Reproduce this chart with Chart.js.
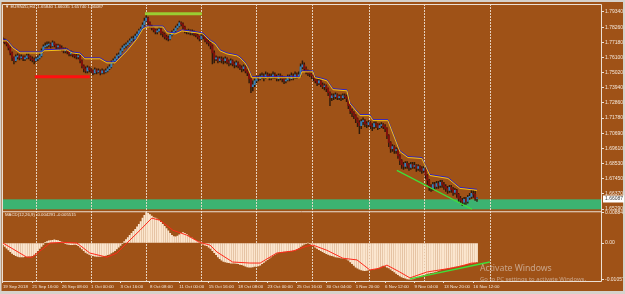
<!DOCTYPE html>
<html>
<head>
<meta charset="utf-8">
<script src="https://cdn.jsdelivr.net/npm/chart.js@4.4.1/dist/chart.umd.min.js"></script>
<style>
  html, body { margin: 0; padding: 0; background: #9f5217; }
  #wrap { width: 625px; height: 294px; }
</style>
</head>
<body>
<div id="wrap"><canvas id="chart" width="625" height="294"></canvas></div>
<script>
// EURNZD H4 candles, 19 Sep - 16 Nov 2018 (one value per bar)
const firstOpen = 1.7735;
const closes = [
  1.7728,1.7721,1.7706,1.7678,1.7642,1.7607,1.7586,1.7614,
  1.7621,1.7607,1.7614,1.7600,1.7607,1.7621,1.7614,1.7600,
  1.7593,1.7586,1.7600,1.7607,1.7621,1.7657,1.7685,1.7692,
  1.7699,1.7706,1.7692,1.7714,1.7699,1.7685,1.7692,1.7678,
  1.7671,1.7657,1.7664,1.7650,1.7635,1.7642,1.7628,1.7621,
  1.7614,1.7621,1.7586,1.7550,1.7529,1.7514,1.7536,1.7522,
  1.7514,1.7500,1.7522,1.7507,1.7514,1.7500,1.7514,1.7507,
  1.7514,1.7529,1.7543,1.7571,1.7586,1.7600,1.7621,1.7628,
  1.7657,1.7678,1.7692,1.7699,1.7714,1.7728,1.7742,1.7742,
  1.7763,1.7777,1.7799,1.7813,1.7841,1.7870,1.7891,1.7856,
  1.7834,1.7820,1.7806,1.7792,1.7799,1.7813,1.7785,1.7777,
  1.7756,1.7749,1.7742,1.7770,1.7785,1.7799,1.7820,1.7834,
  1.7856,1.7848,1.7827,1.7799,1.7792,1.7799,1.7785,1.7792,
  1.7777,1.7770,1.7756,1.7742,1.7763,1.7756,1.7735,1.7721,
  1.7714,1.7692,1.7642,1.7600,1.7607,1.7586,1.7600,1.7593,
  1.7586,1.7600,1.7578,1.7571,1.7586,1.7564,1.7557,1.7571,
  1.7550,1.7536,1.7529,1.7543,1.7514,1.7500,1.7458,1.7401,
  1.7415,1.7443,1.7465,1.7458,1.7472,1.7479,1.7465,1.7486,
  1.7479,1.7465,1.7472,1.7486,1.7472,1.7458,1.7479,1.7465,
  1.7458,1.7443,1.7450,1.7472,1.7458,1.7479,1.7465,1.7486,
  1.7472,1.7486,1.7543,1.7557,1.7529,1.7507,1.7500,1.7493,
  1.7479,1.7465,1.7443,1.7429,1.7443,1.7415,1.7401,1.7408,
  1.7387,1.7358,1.7323,1.7337,1.7330,1.7344,1.7323,1.7330,
  1.7323,1.7337,1.7330,1.7316,1.7266,1.7230,1.7216,1.7195,
  1.7173,1.7145,1.7124,1.7152,1.7159,1.7138,1.7131,1.7145,
  1.7124,1.7117,1.7138,1.7131,1.7109,1.7124,1.7131,1.7117,
  1.7102,1.7053,1.7003,1.6960,1.6974,1.6946,1.6953,1.6910,
  1.6875,1.6846,1.6832,1.6854,1.6839,1.6825,1.6846,1.6832,
  1.6839,1.6818,1.6832,1.6818,1.6804,1.6818,1.6768,1.6733,
  1.6690,1.6676,1.6704,1.6690,1.6711,1.6697,1.6719,1.6704,
  1.6690,1.6676,1.6662,1.6683,1.6669,1.6648,1.6662,1.6634,
  1.6605,1.6591,1.6577,1.6598,1.6584,1.6612,1.6619,1.6641,
  1.6634,1.6605,1.6609
];
const highs = [
  1.7749,1.7742,1.7728,1.7714,1.7685,1.7650,1.7614,1.7628,
  1.7635,1.7628,1.7628,1.7621,1.7621,1.7635,1.7635,1.7621,
  1.7614,1.7607,1.7614,1.7621,1.7635,1.7671,1.7699,1.7714,
  1.7721,1.7721,1.7714,1.7728,1.7721,1.7706,1.7706,1.7699,
  1.7692,1.7678,1.7678,1.7671,1.7657,1.7657,1.7650,1.7642,
  1.7635,1.7635,1.7628,1.7593,1.7557,1.7543,1.7550,1.7543,
  1.7536,1.7522,1.7536,1.7529,1.7529,1.7522,1.7529,1.7522,
  1.7529,1.7543,1.7557,1.7586,1.7600,1.7614,1.7635,1.7642,
  1.7671,1.7692,1.7706,1.7714,1.7728,1.7742,1.7756,1.7763,
  1.7777,1.7792,1.7813,1.7827,1.7856,1.7891,1.7912,1.7898,
  1.7863,1.7841,1.7827,1.7813,1.7813,1.7827,1.7820,1.7792,
  1.7785,1.7770,1.7763,1.7785,1.7799,1.7813,1.7834,1.7848,
  1.7870,1.7863,1.7856,1.7834,1.7806,1.7813,1.7806,1.7806,
  1.7799,1.7785,1.7777,1.7763,1.7777,1.7777,1.7763,1.7742,
  1.7735,1.7721,1.7699,1.7657,1.7621,1.7614,1.7614,1.7614,
  1.7607,1.7614,1.7607,1.7593,1.7600,1.7593,1.7578,1.7586,
  1.7578,1.7557,1.7550,1.7557,1.7550,1.7522,1.7507,1.7465,
  1.7443,1.7458,1.7479,1.7479,1.7493,1.7500,1.7493,1.7507,
  1.7500,1.7493,1.7493,1.7507,1.7500,1.7486,1.7493,1.7493,
  1.7479,1.7472,1.7465,1.7486,1.7486,1.7500,1.7493,1.7507,
  1.7500,1.7507,1.7564,1.7586,1.7571,1.7543,1.7522,1.7514,
  1.7500,1.7486,1.7472,1.7458,1.7458,1.7450,1.7429,1.7422,
  1.7415,1.7394,1.7365,1.7351,1.7351,1.7358,1.7351,1.7344,
  1.7344,1.7351,1.7351,1.7344,1.7330,1.7273,1.7244,1.7223,
  1.7202,1.7180,1.7159,1.7166,1.7180,1.7166,1.7152,1.7159,
  1.7152,1.7138,1.7152,1.7152,1.7138,1.7138,1.7145,1.7138,
  1.7131,1.7109,1.7060,1.7010,1.6989,1.6982,1.6967,1.6960,
  1.6918,1.6882,1.6861,1.6868,1.6868,1.6854,1.6861,1.6861,
  1.6861,1.6846,1.6846,1.6839,1.6832,1.6832,1.6825,1.6775,
  1.6740,1.6704,1.6719,1.6719,1.6726,1.6726,1.6733,1.6733,
  1.6719,1.6704,1.6690,1.6697,1.6697,1.6683,1.6676,1.6669,
  1.6641,1.6619,1.6605,1.6612,1.6612,1.6626,1.6641,1.6662,
  1.6662,1.6655,1.6612
];
const lows = [
  1.7714,1.7706,1.7692,1.7664,1.7628,1.7586,1.7564,1.7578,
  1.7600,1.7593,1.7600,1.7586,1.7586,1.7600,1.7600,1.7586,
  1.7578,1.7564,1.7578,1.7586,1.7600,1.7614,1.7650,1.7678,
  1.7678,1.7685,1.7678,1.7685,1.7685,1.7671,1.7671,1.7664,
  1.7657,1.7642,1.7642,1.7635,1.7621,1.7621,1.7614,1.7607,
  1.7600,1.7600,1.7571,1.7536,1.7507,1.7500,1.7500,1.7507,
  1.7500,1.7486,1.7493,1.7493,1.7500,1.7486,1.7493,1.7493,
  1.7500,1.7507,1.7522,1.7536,1.7564,1.7578,1.7593,1.7607,
  1.7621,1.7650,1.7671,1.7678,1.7692,1.7706,1.7721,1.7728,
  1.7735,1.7756,1.7770,1.7792,1.7806,1.7834,1.7863,1.7841,
  1.7820,1.7806,1.7792,1.7777,1.7777,1.7792,1.7770,1.7756,
  1.7742,1.7735,1.7728,1.7735,1.7763,1.7777,1.7792,1.7813,
  1.7827,1.7834,1.7813,1.7785,1.7777,1.7777,1.7770,1.7770,
  1.7763,1.7756,1.7742,1.7728,1.7735,1.7742,1.7721,1.7706,
  1.7692,1.7671,1.7564,1.7571,1.7586,1.7571,1.7578,1.7571,
  1.7564,1.7571,1.7564,1.7550,1.7557,1.7550,1.7536,1.7543,
  1.7536,1.7522,1.7507,1.7514,1.7500,1.7479,1.7429,1.7358,
  1.7372,1.7401,1.7429,1.7443,1.7450,1.7458,1.7443,1.7458,
  1.7465,1.7450,1.7450,1.7458,1.7458,1.7443,1.7443,1.7450,
  1.7436,1.7422,1.7429,1.7443,1.7443,1.7450,1.7450,1.7458,
  1.7458,1.7465,1.7472,1.7529,1.7514,1.7493,1.7479,1.7472,
  1.7458,1.7443,1.7429,1.7408,1.7415,1.7401,1.7387,1.7379,
  1.7365,1.7337,1.7266,1.7301,1.7308,1.7316,1.7308,1.7308,
  1.7301,1.7308,1.7316,1.7294,1.7244,1.7209,1.7188,1.7173,
  1.7145,1.7117,1.7067,1.7102,1.7131,1.7117,1.7109,1.7117,
  1.7102,1.7088,1.7102,1.7109,1.7095,1.7102,1.7109,1.7102,
  1.7081,1.7031,1.6974,1.6932,1.6939,1.6925,1.6925,1.6889,
  1.6846,1.6818,1.6811,1.6818,1.6818,1.6804,1.6811,1.6818,
  1.6818,1.6797,1.6804,1.6797,1.6782,1.6790,1.6747,1.6704,
  1.6662,1.6655,1.6662,1.6669,1.6676,1.6676,1.6683,1.6683,
  1.6669,1.6655,1.6641,1.6648,1.6648,1.6626,1.6634,1.6612,
  1.6584,1.6570,1.6555,1.6562,1.6562,1.6570,1.6598,1.6605,
  1.6612,1.6591,1.6584
];

// MACD(12,26,9) main values, one per bar
const macdHist = [
  -0.0005,-0.0010,-0.0015,-0.0020,
  -0.0025,-0.0030,-0.0034,-0.0037,-0.0039,-0.0040,
  -0.0040,-0.0040,-0.0039,-0.0039,-0.0038,-0.0038,-0.0037,
  -0.0033,-0.0028,-0.0022,-0.0016,-0.0010,-0.0004,
  0.0001,0.0004,0.0006,0.0007,0.0008,0.0009,0.0008,0.0007,0.0005,
  0.0003,0.0001,-0.0001,-0.0003,-0.0004,-0.0005,-0.0005,-0.0004,-0.0005,
  -0.0008,-0.0012,-0.0017,-0.0022,-0.0027,-0.0030,-0.0033,-0.0035,-0.0037,
  -0.0038,-0.0039,-0.0039,-0.0039,
  -0.0038,-0.0037,-0.0036,-0.0034,-0.0032,-0.0029,-0.0026,
  -0.0022,-0.0017,-0.0012,-0.0007,-0.0002,
  0.0004,0.0010,0.0016,0.0022,0.0028,0.0034,
  0.0040,0.0047,0.0054,0.0062,0.0072,
  0.0080,0.0088,0.0086,
  0.0082,0.0078,0.0074,0.0072,0.0069,0.0066,
  0.0060,0.0054,0.0048,0.0042,0.0035,0.0028,
  0.0022,0.0019,0.0018,0.0020,
  0.0024,0.0028,0.0030,0.0028,0.0025,
  0.0020,0.0016,0.0014,0.0011,0.0008,0.0005,0.0003,
  0.0000,-0.0003,-0.0006,-0.0008,-0.0012,-0.0016,
  -0.0022,-0.0028,-0.0034,-0.0040,-0.0045,
  -0.0050,-0.0053,-0.0055,-0.0056,-0.0057,-0.0058,-0.0058,
  -0.0058,-0.0059,-0.0060,-0.0062,-0.0063,-0.0065,-0.0067,-0.0069,-0.0070,
  -0.0070,-0.0069,-0.0068,-0.0067,-0.0066,-0.0064,
  -0.0060,-0.0056,-0.0052,-0.0048,-0.0044,-0.0040,-0.0036,-0.0032,-0.0029,
  -0.0027,-0.0026,-0.0025,-0.0024,-0.0024,-0.0023,-0.0022,-0.0022,-0.0021,-0.0020,-0.0018,-0.0014,
  -0.0010,-0.0006,-0.0003,-0.0001,0.0000,-0.0002,-0.0005,
  -0.0008,-0.0012,-0.0016,-0.0019,-0.0022,-0.0025,-0.0028,-0.0031,-0.0033,-0.0035,-0.0037,
  -0.0038,-0.0040,-0.0041,-0.0042,-0.0043,-0.0044,-0.0045,-0.0046,
  -0.0050,-0.0055,-0.0060,-0.0065,-0.0070,
  -0.0073,-0.0076,-0.0078,-0.0079,-0.0080,-0.0079,
  -0.0078,-0.0077,-0.0076,-0.0075,-0.0074,-0.0072,-0.0070,
  -0.0067,-0.0065,-0.0066,-0.0070,
  -0.0072,-0.0076,-0.0080,-0.0084,-0.0088,-0.0092,-0.0095,
  -0.0098,-0.0100,-0.0102,-0.0104,-0.0105,-0.0105,-0.0104,
  -0.0102,-0.0100,-0.0098,-0.0096,-0.0094,-0.0092,
  -0.0090,-0.0088,-0.0087,-0.0086,-0.0085,-0.0084,-0.0082,-0.0080,-0.0078,
  -0.0076,-0.0075,-0.0074,-0.0073,-0.0072,-0.0071,-0.0070,-0.0068,-0.0067,
  -0.0066,-0.0065,-0.0064,-0.0063,-0.0062,-0.0060,-0.0059,-0.0058,
  -0.0057,-0.0056,-0.0055
];

// signal line, read as vertices (bar, value)
const macdSignal = [
  {x: 0, y: 0}, {x: 13, y: -0.0041}, {x: 16, y: -0.0041}, {x: 25.6, y: 0},
  {x: 32.7, y: 0.0002}, {x: 40.3, y: 0}, {x: 47.3, y: -0.0029}, {x: 56.6, y: -0.0041},
  {x: 62, y: -0.0029}, {x: 67.5, y: 0}, {x: 74.6, y: 0.0037}, {x: 81, y: 0.0072},
  {x: 85.4, y: 0.0066}, {x: 92.5, y: 0.0037}, {x: 100, y: 0.0023}, {x: 107, y: 0.0002},
  {x: 112.7, y: -0.0006}, {x: 116.5, y: -0.0026}, {x: 125, y: -0.0055}, {x: 134.4, y: -0.0058},
  {x: 140, y: -0.0058}, {x: 149, y: -0.0029}, {x: 158, y: -0.0023}, {x: 165.4, y: -0.0009},
  {x: 168.7, y: -0.0006}, {x: 176.3, y: -0.0021}, {x: 185, y: -0.0044}, {x: 192.7, y: -0.0049},
  {x: 199.7, y: -0.0078}, {x: 205, y: -0.0073}, {x: 209, y: -0.0064}, {x: 216, y: -0.0084},
  {x: 221.5, y: -0.0101}, {x: 230.7, y: -0.0084}, {x: 237.8, y: -0.0078}, {x: 247, y: -0.0070},
  {x: 255.2, y: -0.0058}, {x: 258, y: -0.0058}
];

// stepped moving average on the price pane, read as vertices (bar, price)
const maLine = [
  {x: 0, y: 1.7728}, {x: 2.2, y: 1.7728}, {x: 5.4, y: 1.7678}, {x: 9.3, y: 1.7642},
  {x: 21.2, y: 1.7642}, {x: 22.3, y: 1.7657}, {x: 34.8, y: 1.7664}, {x: 37.6, y: 1.7642},
  {x: 41.9, y: 1.7635}, {x: 44.6, y: 1.7600}, {x: 52.8, y: 1.7600}, {x: 56.6, y: 1.7571},
  {x: 61, y: 1.7571}, {x: 67.5, y: 1.7657}, {x: 72.9, y: 1.7742}, {x: 76.2, y: 1.7813},
  {x: 78.4, y: 1.7827}, {x: 87.1, y: 1.7827}, {x: 89.3, y: 1.7785}, {x: 93.6, y: 1.7777},
  {x: 97.4, y: 1.7799}, {x: 105.6, y: 1.7785}, {x: 108.8, y: 1.7777}, {x: 112.7, y: 1.7728},
  {x: 115.4, y: 1.7706}, {x: 118.1, y: 1.7657}, {x: 121.9, y: 1.7635}, {x: 127.3, y: 1.7621},
  {x: 129, y: 1.7607}, {x: 131.7, y: 1.7571}, {x: 133.3, y: 1.7536}, {x: 135.5, y: 1.7465},
  {x: 161.6, y: 1.7465}, {x: 162.7, y: 1.7507}, {x: 168.7, y: 1.7507}, {x: 169.8, y: 1.7465},
  {x: 172.5, y: 1.7458}, {x: 176.3, y: 1.7443}, {x: 179.6, y: 1.7380}, {x: 187.2, y: 1.7372},
  {x: 188.8, y: 1.7280}, {x: 194.3, y: 1.7195}, {x: 199.7, y: 1.7195}, {x: 201.4, y: 1.7159},
  {x: 209.5, y: 1.7159}, {x: 216, y: 1.6939}, {x: 220.4, y: 1.6896}, {x: 228, y: 1.6889},
  {x: 232.4, y: 1.6768}, {x: 242.2, y: 1.6747}, {x: 248.7, y: 1.6676}, {x: 258, y: 1.6662}
];

// drawn objects
const redLevel = [{x: 17.4, y: 1.7472}, {x: 47.3, y: 1.7472}];
const topLevel = [{x: 77.3, y: 1.7922}, {x: 108.3, y: 1.7922}];
const priceTrend = [{x: 214.4, y: 1.6804}, {x: 255.2, y: 1.6527}];
const macdTrend = [{x: 221.5, y: -0.0104}, {x: 265, y: -0.0055}];
const supportBand = [1.6598, 1.6527];

const timeLabels = ['19 Sep 2018', '21 Sep 16:00', '26 Sep 08:00', '1 Oct 00:00', '3 Oct 16:00',
  '8 Oct 08:00', '11 Oct 00:00', '15 Oct 16:00', '18 Oct 08:00', '23 Oct 00:00', '25 Oct 16:00',
  '30 Oct 04:00', '1 Nov 20:00', '6 Nov 12:00', '9 Nov 04:00', '13 Nov 20:00', '16 Nov 12:00'];
const labelStep = 16;
const separatorBars = [18, 48, 78, 108, 138, 168, 199, 229, 265];
const priceTicks = [1.79340, 1.78260, 1.77180, 1.76100, 1.75020, 1.73940, 1.72860,
  1.71780, 1.70690, 1.69610, 1.68530, 1.67450, 1.66370, 1.65290];
const macdTicks = [0.008842, 0, -0.010571];
const macdTickLabels = ['0.008842', '0.00', '-0.010571'];
const lastPrice = 1.66087;
const mainTitle = '\u25BC EURNZD,H4  1.65840 1.66035 1.65740 1.66087';
const macdTitle = 'MACD(12,26,9) -0.004291 -0.005515';

const bgColor = '#9f5217';
const frameColor = '#ece0d4';
const textColor = '#f4e8dc';
const bullColor = '#3380bb';
const bearColor = '#820f0c';
const wickColor = '#2e1a0c';

const opens = closes.map((c, i) => i === 0 ? firstOpen : closes[i - 1]);

const mtPlugin = {
    id: 'mtDecor',
    beforeDraw: function (chart) {
        const ctx = chart.ctx;
        const a = chart.chartArea;
        const x = chart.scales.x, y = chart.scales.y;
        ctx.save();
        ctx.fillStyle = bgColor;
        ctx.fillRect(0, 0, chart.width, chart.height);
        const t = y.getPixelForValue(supportBand[0]);
        const b = y.getPixelForValue(supportBand[1]);
        ctx.fillStyle = '#3cb371';
        ctx.fillRect(a.left, t, a.right - a.left, b - t);
        ctx.strokeStyle = 'rgba(236,222,208,0.9)';
        ctx.lineWidth = 1;
        ctx.setLineDash([2, 1]);
        separatorBars.forEach(function (s) {
            const px = Math.round(x.getPixelForValue(s)) + 0.5;
            ctx.beginPath();
            ctx.moveTo(px, a.top);
            ctx.lineTo(px, a.bottom);
            ctx.stroke();
        });
        ctx.restore();
    },
    beforeDatasetDraw: function (chart, args) {
        if (args.meta.label === 'maBlue') {
            chart.ctx.save();
            chart.ctx.translate(0, -1);
        }
    },
    afterDatasetDraw: function (chart, args) {
        if (args.meta.label === 'maBlue') {
            chart.ctx.restore();
        }
    },
    afterDraw: function (chart) {
        const ctx = chart.ctx;
        const a = chart.chartArea;
        const y = chart.scales.y, y2 = chart.scales.y2;
        ctx.save();
        // window frame
        ctx.fillStyle = '#d6d2cc';
        ctx.fillRect(0, 0, chart.width, 2);
        ctx.fillRect(0, 0, 1.5, chart.height);
        ctx.fillRect(623, 0, 2, chart.height);
        ctx.fillRect(0, 291, chart.width, 3);
        // pane borders
        ctx.strokeStyle = frameColor;
        ctx.lineWidth = 1;
        ctx.beginPath();
        ctx.moveTo(a.left + 0.5, a.top + 0.5);
        ctx.lineTo(a.right + 0.5, a.top + 0.5);
        ctx.lineTo(a.right + 0.5, a.bottom + 0.5);
        ctx.lineTo(a.left + 0.5, a.bottom + 0.5);
        ctx.closePath();
        ctx.moveTo(a.left, y.bottom + 0.5);
        ctx.lineTo(a.right, y.bottom + 0.5);
        ctx.stroke();
        // titles
        ctx.fillStyle = textColor;
        ctx.textBaseline = 'middle';
        ctx.font = '4.3px "Liberation Sans", sans-serif';
        ctx.fillText(mainTitle, 5, 7);
        ctx.fillText(macdTitle, 5, y2.top + 4);
        // current price box
        const py = Math.round(y.getPixelForValue(lastPrice)) + 1;
        ctx.fillStyle = '#ffffff';
        ctx.fillRect(603, py - 3.5, 21, 7);
        ctx.fillStyle = '#3a3a3a';
        ctx.font = '5px "Liberation Sans", sans-serif';
        ctx.fillText(lastPrice.toFixed(5), 605, py);
        // system watermark
        ctx.fillStyle = 'rgba(226,216,210,0.6)';
        ctx.font = '8.7px "Noto Sans", sans-serif';
        ctx.fillText('Activate Windows', 480, 269);
        ctx.font = '5.9px "Noto Sans", sans-serif';
        ctx.fillText('Go to PC settings to activate Windows.', 480, 279);
        ctx.restore();
    }
};

const ctx = document.getElementById('chart').getContext('2d');
const myChart = new Chart(ctx, {
    type: 'bar',
    data: {
        datasets: [{
            type: 'bar',
            label: 'wicks',
            data: closes.map((c, i) => ({x: i, y: [Math.min(lows[i], opens[i], c), Math.max(highs[i], opens[i], c)]})),
            backgroundColor: wickColor,
            barThickness: 0.8,
            grouped: false,
            yAxisID: 'y',
            order: 20
        }, {
            type: 'bar',
            label: 'bodies',
            data: closes.map((c, i) => ({x: i, y: [opens[i], c]})),
            backgroundColor: closes.map((c, i) => c >= opens[i] ? bullColor : bearColor),
            barThickness: 1.3,
            grouped: false,
            yAxisID: 'y',
            order: 19
        }, {
            type: 'line',
            label: 'maBlue',
            data: maLine,
            borderColor: '#2a22d0',
            borderWidth: 1,
            pointRadius: 0,
            yAxisID: 'y',
            order: 18
        }, {
            type: 'line',
            label: 'maYellow',
            data: maLine,
            borderColor: '#f4c21a',
            borderWidth: 1,
            pointRadius: 0,
            yAxisID: 'y',
            order: 17
        }, {
            type: 'line',
            label: 'red level',
            data: redLevel,
            borderColor: '#ff1010',
            borderWidth: 3,
            pointRadius: 0,
            yAxisID: 'y',
            order: 5
        }, {
            type: 'line',
            label: 'top level',
            data: topLevel,
            borderColor: '#9acd32',
            borderWidth: 3,
            pointRadius: 0,
            yAxisID: 'y',
            order: 5
        }, {
            type: 'line',
            label: 'price trend',
            data: priceTrend,
            borderColor: '#3ee03a',
            borderWidth: 1.3,
            pointRadius: 0,
            yAxisID: 'y',
            order: 4
        }, {
            type: 'bar',
            label: 'MACD',
            data: macdHist.map((v, i) => ({x: i, y: v})),
            backgroundColor: '#fbe6cf',
            barThickness: 1.2,
            grouped: false,
            yAxisID: 'y2',
            order: 20
        }, {
            type: 'line',
            label: 'Signal',
            data: macdSignal,
            borderColor: '#ff2a1a',
            borderWidth: 1,
            pointRadius: 0,
            yAxisID: 'y2',
            order: 10
        }, {
            type: 'line',
            label: 'macd trend',
            data: macdTrend,
            borderColor: '#3ee03a',
            borderWidth: 1.3,
            pointRadius: 0,
            yAxisID: 'y2',
            order: 4
        }]
    },
    options: {
        responsive: false,
        devicePixelRatio: 1,
        animation: false,
        events: [],
        layout: { padding: { left: 2, top: 3, right: 0, bottom: 0 } },
        scales: {
            x: {
                type: 'linear',
                min: -0.5,
                max: 325.5,
                offset: false,
                afterFit: function (scale) { scale.height = 13; },
                afterBuildTicks: function (scale) {
                    scale.ticks = timeLabels.map((t, k) => ({value: k * labelStep}));
                },
                grid: { display: true, offset: false, drawOnChartArea: false, drawTicks: true, tickLength: 2, color: frameColor },
                border: { display: false },
                ticks: {
                    autoSkip: false,
                    maxRotation: 0,
                    align: 'start',
                    padding: 1,
                    color: textColor,
                    font: { family: 'Liberation Sans', size: 4.4 },
                    callback: function (value) { return timeLabels[Math.round(value / labelStep)]; }
                }
            },
            y: {
                type: 'linear',
                position: 'right',
                stack: 'panes',
                stackWeight: 208,
                min: 1.6513,
                max: 1.7991,
                offset: false,
                afterFit: function (scale) { scale.width = 24; },
                afterBuildTicks: function (scale) {
                    scale.ticks = priceTicks.map(v => ({value: v}));
                },
                grid: { display: true, drawOnChartArea: false, drawTicks: true, tickLength: 3, color: frameColor },
                border: { display: false },
                ticks: {
                    autoSkip: false,
                    padding: 1,
                    color: textColor,
                    font: { family: 'Liberation Sans', size: 5 },
                    callback: function (value) { return value.toFixed(5); }
                }
            },
            y2: {
                type: 'linear',
                position: 'right',
                stack: 'panes',
                stackWeight: 70,
                min: -0.0110,
                max: 0.0092,
                offset: false,
                afterFit: function (scale) { scale.width = 24; },
                afterBuildTicks: function (scale) {
                    scale.ticks = macdTicks.map(v => ({value: v}));
                },
                grid: { display: true, drawOnChartArea: false, drawTicks: true, tickLength: 3, color: frameColor },
                border: { display: false },
                ticks: {
                    autoSkip: false,
                    padding: 1,
                    color: textColor,
                    font: { family: 'Liberation Sans', size: 5 },
                    callback: function (value, index) { return macdTickLabels[index]; }
                }
            }
        },
        plugins: {
            legend: { display: false },
            tooltip: { enabled: false }
        }
    },
    plugins: [mtPlugin]
});
</script>
</body>
</html>
